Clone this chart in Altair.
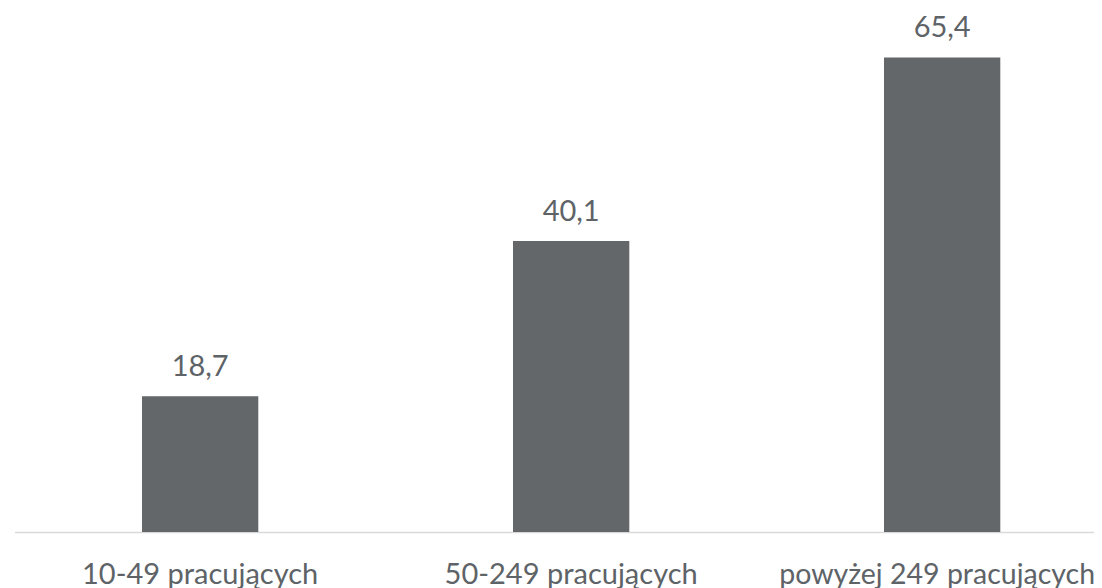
import altair as alt
import pandas as pd

categories = ["10-49 pracujących", "50-249 pracujących", "powyżej 249 pracujących"]
values = [18.7, 40.1, 65.4]

df = pd.DataFrame({"kat": categories, "val": values})
df["lbl"] = [f"{v:.1f}".replace(".", ",") for v in values]

FONT = "Lato"
TXT = "#5e6367"
BAR = "#63676a"
LAST = categories[-1]

x = alt.X(
    "kat:N",
    sort=categories,
    title=None,
    scale=alt.Scale(paddingInner=0.6865, paddingOuter=0.2981, align=0.5764),
    axis=alt.Axis(
        labelAngle=0,
        labelFont=FONT,
        labelFontSize={"condition": {"test": f"datum.value == '{LAST}'", "value": 28.5}, "value": 29},
        labelOffset={"condition": {"test": f"datum.value == '{LAST}'", "value": -5}, "value": 0},
        labelColor=TXT,
        labelBaseline="alphabetic",
        labelPadding=51,
        ticks=False,
        domainColor="#d9d9d9",
        domainWidth=1.3,
        labelLimit=0,
        grid=False,
    ),
)
y = alt.Y("val:Q", scale=alt.Scale(domain=[0, 70], nice=False, zero=True), axis=None)

bars = alt.Chart(df).mark_bar(color=BAR).encode(x=x, y=y)
text = alt.Chart(df).mark_text(
    font=FONT, fontSize=29, color=TXT, baseline="alphabetic", dy=-20
).encode(x=x, y=y, text="lbl:N")

chart = (
    (bars + text)
    .properties(
        width=1079.5,
        height=508,
        autosize=alt.AutoSizeParams(type="none"),
        padding={"left": 6.5, "top": 16, "right": 0, "bottom": 70},
    )
    .configure_view(stroke=None)
)

chart.save("out.html", embed_options={"renderer": "svg", "actions": False})
